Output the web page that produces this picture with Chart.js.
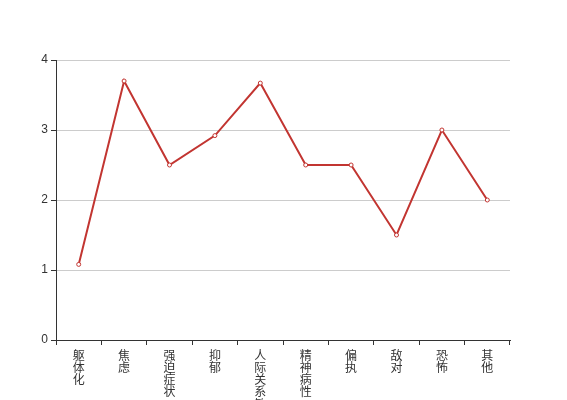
<!DOCTYPE html>
<html><head><meta charset="utf-8">
<script src="https://cdn.jsdelivr.net/npm/chart.js@4"></script>
<style>html,body{margin:0;padding:0;background:#fff}#w{width:567px;height:400px}</style>
</head><body><div id="w"><canvas id="c" width="567" height="400"></canvas></div>
<script>
const categories = ['躯体化','焦虑','强迫症状','抑郁','人际关系敏感','精神病性','偏执','敌对','恐怖','其他'];
const scores = [1.08, 3.7, 2.5, 2.92, 3.67, 2.5, 2.5, 1.5, 3.0, 2.0];
const yTicks = [0, 1, 2, 3, 4];

const font = {family: '"Noto Sans CJK SC", "Noto Sans", sans-serif', size: 12};
new Chart(document.getElementById('c'), {
  type: 'line',
  data: {labels: categories, datasets: [{
    data: scores, borderColor: '#c23531', borderWidth: 2,
    pointRadius: 2, pointBorderWidth: 1, pointBackgroundColor: '#fff', pointBorderColor: '#c23531',
    tension: 0, fill: false
  }]},
  options: {
    responsive: false, animation: false,
    layout: {padding: {top: 60, right: 57, left: 0, bottom: 0}},
    plugins: {legend: {display: false}, tooltip: {enabled: false}},
    scales: {
      x: {
        offset: true,
        grid: {offset: true, drawOnChartArea: false, drawTicks: true, tickLength: 5, tickColor: '#333'},
        border: {color: '#333', width: 1},
        ticks: {color: '#333', font: {...font, lineHeight: 1.02}, maxRotation: 0, autoSkip: false, padding: 4,
          callback: function(v){ return categories[v].split(''); }},
        afterFit: s => { s.height = 60; }
      },
      y: {
        min: 0, max: 4,
        afterBuildTicks: s => { s.ticks = yTicks.map(v => ({value: v})); },
        grid: {color: '#ccc', tickColor: '#333', tickLength: 5, drawTicks: true},
        border: {color: '#333', width: 1},
        ticks: {color: '#333', font: {family: 'sans-serif', size: 12}, padding: 3},
        afterFit: s => { s.width = 56; }
      }
    }
  }
});
</script></body></html>
